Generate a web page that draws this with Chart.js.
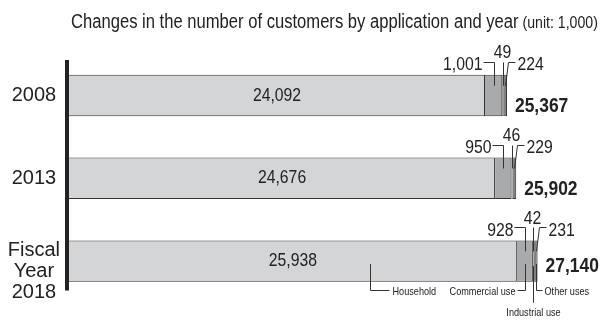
<!DOCTYPE html>
<html>
<head>
<meta charset="utf-8">
<script src="https://cdn.jsdelivr.net/npm/chart.js@4/dist/chart.umd.min.js"></script>
<style>
  body { margin: 0; background: #fff; }
  canvas { display: block; }
</style>
</head>
<body>
<canvas id="grafico" width="601" height="322"></canvas>
<script>
// customers by use, in thousands
const years = ['2008', '2013', ['', 'Fiscal', 'Year', '2018']];
const uses = ['Household', 'Commercial use', 'Industrial use', 'Other uses'];
const household = [24092, 24676, 25938];
const commercial = [1001, 950, 928];
const industrial = [49, 46, 42];
const other = [224, 229, 231];
const totals = [25367, 25902, 27140];

const FONT = "'Liberation Sans', Arial, sans-serif";
const INK = '#222';
const SX = 0.83; // squeeze canvas text to a narrow face
const fmt = v => v.toLocaleString('en-US');

const path = (ctx, pts) => {
    ctx.beginPath();
    pts.forEach(([x, y], k) => k ? ctx.lineTo(x, y) : ctx.moveTo(x, y));
    ctx.stroke();
};
const text = (ctx, str, x, y) => {
    ctx.save();
    ctx.translate(x, y);
    ctx.scale(SX, 1);
    ctx.fillText(str, 0, 0);
    ctx.restore();
};
const snap = v => Math.round(v) + 0.5;
const mid = el => (el.x + el.base) / 2;

const calloutsPlugin = {
    id: 'callouts',
    afterDatasetsDraw(chart, args, opts) {
        const ctx = chart.ctx;
        const area = chart.chartArea;
        const metas = uses.map((u, i) => chart.getDatasetMeta(i).data);
        ctx.save();
        ctx.fillStyle = INK;
        ctx.strokeStyle = '#333';
        ctx.lineWidth = 1;

        // thick axis line at zero
        const x0 = chart.scales.x.getPixelForValue(0);
        ctx.fillRect(x0 - 4, area.top + 6, 4, area.bottom - area.top - 18);

        years.forEach((y, i) => {
            const h = metas[0][i], c = metas[1][i], ind = metas[2][i], o = metas[3][i];
            const top = h.y - h.height / 2;
            const bottom = h.y + h.height / 2;
            const ly = snap(top - 13);

            ctx.font = `19px ${FONT}`;
            ctx.textAlign = 'center';
            ctx.textBaseline = 'middle';
            text(ctx, fmt(household[i]), mid(h), h.y);

            ctx.textBaseline = 'alphabetic';
            // commercial
            let cx = snap(mid(c));
            path(ctx, [[cx - 11, ly], [cx, ly], [cx, top + 11]]);
            ctx.textAlign = 'right';
            text(ctx, fmt(commercial[i]), cx - 12, top - 4.5);
            // industrial
            cx = snap(mid(ind));
            path(ctx, [[cx, ly], [cx, top + 11]]);
            ctx.textAlign = 'center';
            text(ctx, fmt(industrial[i]), cx - 1, top - 16.5);
            // other
            cx = snap(mid(o));
            path(ctx, [[cx + 10, ly], [cx + 3, ly], [cx, top + 11]]);
            ctx.textAlign = 'left';
            text(ctx, fmt(other[i]), cx + 12, top - 4.5);

            // total
            ctx.font = `bold 21px ${FONT}`;
            text(ctx, fmt(totals[i]), o.x + 8, h.y + opts.totalDy[i]);

            if (i !== years.length - 1) return;

            // names of the uses under the last bar
            const gy = snap(bottom + 8.5);
            ctx.font = `11px ${FONT}`;
            ctx.textBaseline = 'middle';

            let ax = snap(h.base + (h.x - h.base) * 0.673);
            path(ctx, [[ax, h.y + 3], [ax, gy], [ax + 19, gy]]);
            ctx.textAlign = 'left';
            text(ctx, uses[0], ax + 22, gy + 1);

            ax = snap(mid(c));
            path(ctx, [[ax, h.y + 3], [ax, gy], [ax - 8, gy]]);
            ctx.textAlign = 'right';
            text(ctx, uses[1], ax - 10, gy + 1);

            ax = snap(mid(ind));
            path(ctx, [[ax, h.y + 5], [ax, bottom + 21]]);
            ctx.textAlign = 'center';
            ctx.textBaseline = 'alphabetic';
            text(ctx, uses[2], ax, bottom + 34);

            ax = snap(mid(o));
            path(ctx, [[ax, h.y + 3], [ax, gy], [ax + 6, gy]]);
            ctx.textAlign = 'left';
            ctx.textBaseline = 'middle';
            text(ctx, uses[3], ax + 8, gy + 1);
        });
        ctx.restore();
    },
    afterDraw(chart) {
        const ctx = chart.ctx;
        ctx.save();
        ctx.fillStyle = INK;
        ctx.textBaseline = 'alphabetic';
        ctx.textAlign = 'left';
        ctx.font = `20px ${FONT}`;
        const title = 'Changes in the number of customers by application and year';
        text(ctx, title, 71, 28);
        const w = ctx.measureText(title).width * SX;
        ctx.font = `17px ${FONT}`;
        text(ctx, '(unit: 1,000)', 71 + w + 4, 28);
        ctx.restore();
    }
};

const colors = ['#d4d5d7', '#a9aaac', '#4a4a4a', '#808183'];
const series = [household, commercial, industrial, other];

new Chart(document.getElementById('grafico'), {
    type: 'bar',
    data: {
        labels: years,
        datasets: series.map((data, i) => ({
            label: uses[i],
            data,
            backgroundColor: colors[i],
            borderColor: '#333',
            borderWidth: 1,
            barPercentage: 0.5,
            categoryPercentage: 1
        }))
    },
    options: {
        indexAxis: 'y',
        responsive: false,
        animation: false,
        devicePixelRatio: 1,
        layout: { padding: { top: 54, bottom: 18, left: 0, right: 14 } },
        scales: {
            x: { display: false, stacked: true, min: 0, max: 30000 },
            y: {
                stacked: true,
                grid: { display: false, drawTicks: false },
                border: { display: false },
                ticks: {
                    autoSkip: false,
                    crossAlign: 'center',
                    padding: 9,
                    color: INK,
                    font: { family: FONT, size: 20, lineHeight: 1.05 }
                },
                afterFit(scale) { scale.width = 69; }
            }
        },
        plugins: {
            legend: { display: false },
            tooltip: { enabled: false },
            callouts: { totalDy: [17, 17, 11] }
        }
    },
    plugins: [calloutsPlugin]
});
</script>
</body>
</html>
